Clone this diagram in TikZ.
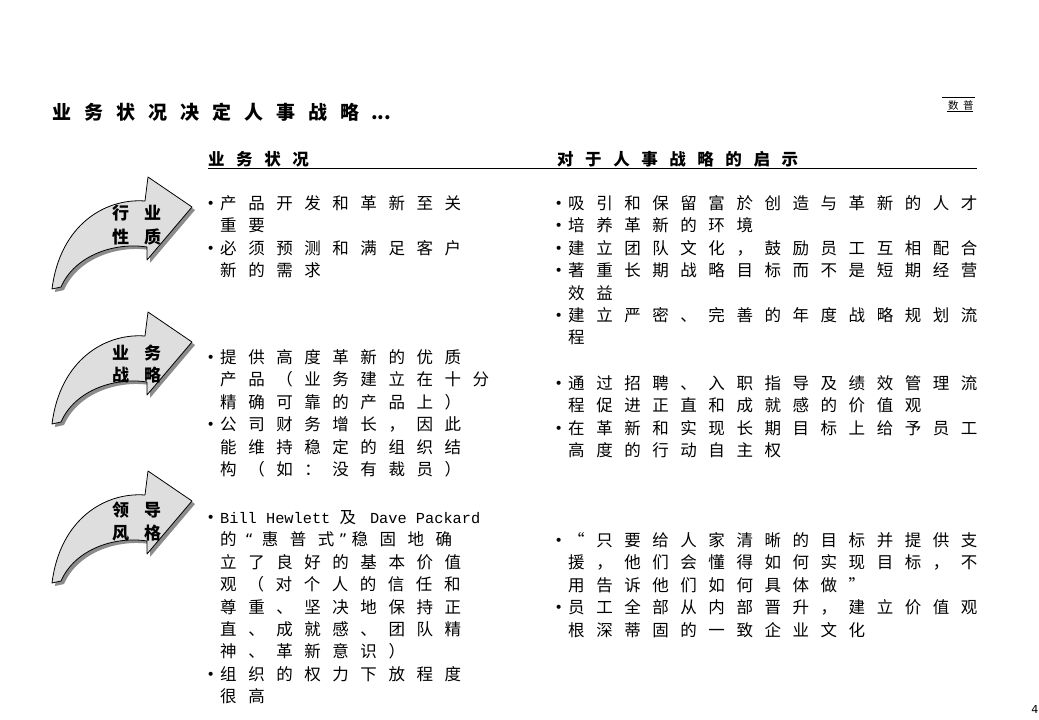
\documentclass[tikz,border=0pt]{standalone}
\usepackage{fontspec}
\newfontfamily\cjk{Noto Sans CJK SC}[LetterSpace=70]
\newfontfamily\cjkn{Noto Sans CJK SC}
\newfontfamily\monof{Liberation Mono}
\newfontfamily\dvs{DejaVu Sans}
\newcommand\bul{\makebox[12pt][l]{\hspace*{-1.5pt}\dvs\fontsize{14}{14}\selectfont\raisebox{1.1pt}{•}}}
\newcommand\ind{\hspace*{12pt}}
\newcommand\mo[1]{{\monof\fontsize{15.3}{22.4}\selectfont #1}}
\newcommand\dq[1]{{\dvs\fontsize{16}{16}\selectfont #1}}
\newcommand\fst{\rule{0pt}{15pt}}
\newcommand\ttgap{\hspace{13pt}}
\newcommand\labgap{\hspace{15pt}}
\begin{document}
\begin{tikzpicture}[x=1pt,y=-1pt,
  txt/.style={anchor=north west, inner sep=0pt, align=left, font=\cjk\fontsize{16.5}{22.4}\selectfont},
  lab/.style={anchor=base west, inner sep=0pt, font=\cjkn\bfseries\fontsize{17}{17}\selectfont},
  hdr/.style={anchor=base west, inner sep=0pt, font=\cjk\bfseries\fontsize{16.5}{16.5}\selectfont},
  arrowfill/.style={fill=black!13, draw=black, line width=0.8pt, line join=round},
  arrowshadow/.style={fill=black!45},
  rule/.style={line width=1.1pt},
  curvearrow/.pic={
    \fill[arrowshadow, shift={(3,3)}] (52,289) .. controls (60,225) and (105,198) .. (145,201) -- (148,177) -- (192,207) -- (147,260) -- (147,247) .. controls (115,242) and (75,255) .. (61,287) -- cycle;
    \path[arrowfill] (52,289) .. controls (60,225) and (105,198) .. (145,201) -- (148,177) -- (192,207) -- (147,260) -- (147,247) .. controls (115,242) and (75,255) .. (61,287) -- cycle;
  }
]
\useasboundingbox (0,0) rectangle (1039,720);
\fill[white] (0,0) rectangle (1039,720);

% title
\node[anchor=base west, inner sep=0pt, font=\cjkn\bfseries\fontsize{19}{19}\selectfont] (title) at (52,119.2) {业\ttgap 务\ttgap 状\ttgap 况\ttgap 决\ttgap 定\ttgap 人\ttgap 事\ttgap 战\ttgap 略\hspace{12pt}...};

% top-right tag
\coordinate (tagl) at (942,97);
\coordinate (tagr) at (975,97);
\draw[line width=0.8pt] (tagl) -- (tagr);
\node[anchor=base west, inner sep=0pt, font=\cjkn\fontsize{10.5}{10.5}\selectfont] (tag) at (948,109.5) {数\hspace{4.5pt}普};
\coordinate (tagul) at (947,111.8);
\coordinate (tagur) at (973,111.8);
\draw[line width=0.8pt] (tagul) -- (tagur);

% headers
\node[hdr] (h1) at (208,165.3) {业务状况};
\node[hdr] (h2) at (557,165.3) {对于人事战略的启示};
\coordinate (rulel) at (208,168.8);
\coordinate (ruler) at (977,168.8);
\draw[rule] (rulel) -- (ruler);

% arrows
\pic at (0,0) {curvearrow};
\pic at (0,135) {curvearrow};
\pic at (0,294) {curvearrow};

\node[lab] (a1a) at (112,219.8) {行\labgap 业};
\node[lab] (a1b) at (112,243.2) {性\labgap 质};
\node[lab] (a2a) at (112,359.5) {业\labgap 务};
\node[lab] (a2b) at (112,381.0) {战\labgap 略};
\node[lab] (a3a) at (112,516.5) {领\labgap 导};
\node[lab] (a3b) at (112,539.0) {风\labgap 格};

% left column
\node[txt] (l1) at (208,194.3) {\fst\bul 产品开发和革新至关\\
\ind 重要\\
\bul 必须预测和满足客户\\
\ind 新的需求};

\node[txt] (l2) at (208,348.3) {\fst\bul 提供高度革新的优质\\
\ind 产品（业务建立在十分\\
\ind 精确可靠的产品上）\\
\bul 公司财务增长，因此\\
\ind 能维持稳定的组织结\\
\ind 构（如：没有裁员）};

\node[txt] (l3) at (208,508.3) {\fst\bul \mo{Bill Hewlett }及\hspace{14pt}\mo{Dave Packard}\\
\ind 的\hspace{8.5pt}\dq{“}\hspace{8.4pt}惠普式\hspace{4.5pt}\dq{”}\hspace{4.3pt}稳固地确\\
\ind 立了良好的基本价值\\
\ind 观\hspace{11pt}（对个人的信任和\\
\ind 尊重、坚决地保持正\\
\ind 直、成就感、团队精\\
\ind 神、革新意识）\\
\bul 组织的权力下放程度\\
\ind 很高};

% right column
\node[txt] (r1) at (556,194.3) {\fst\bul 吸引和保留富於创造与革新的人才\\
\bul 培养革新的环境\\
\bul 建立团队文化，鼓励员工互相配合\\
\bul 著重长期战略目标而不是短期经营\\
\ind 效益\\
\bul 建立严密、完善的年度战略规划流\\
\ind 程};

\node[txt] (r2) at (556,374.3) {\fst\bul 通过招聘、入职指导及绩效管理流\\
\ind 程促进正直和成就感的价值观\\
\bul 在革新和实现长期目标上给予员工\\
\ind 高度的行动自主权};

\node[txt] (r3) at (556,531.3) {\fst\bul “只要给人家清晰的目标并提供支\\
\ind 援，他们会懂得如何实现目标，不\\
\ind 用告诉他们如何具体做”\\
\bul 员工全部从内部晋升，建立价值观\\
\ind 根深蒂固的一致企业文化};

% page number
\node[anchor=base east, inner sep=0pt, font=\dvs\fontsize{11}{11}\selectfont] (pnum) at (1038.5,713) {4};
\end{tikzpicture}
\end{document}
